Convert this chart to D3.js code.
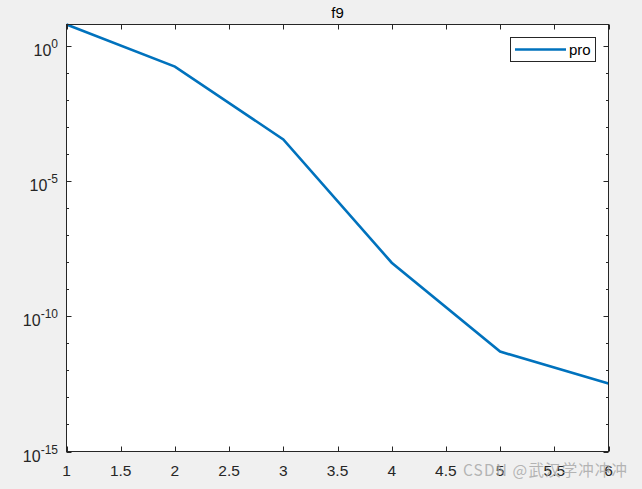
<!DOCTYPE html>
<html><head><meta charset="utf-8">
<script src="https://cdn.jsdelivr.net/npm/d3@7"></script>
<style>
html,body{margin:0;padding:0;background:#f0f0f0;}
svg{display:block;font-family:"Liberation Sans",Arial,Helvetica,sans-serif;}
</style></head>
<body><svg id="c" width="642" height="489"></svg>
<script>
const xValues = [1, 2, 3, 4, 5, 6];
const proValues = [6.5, 0.18, 3.6e-4, 9.8e-9, 5.0e-12, 3.3e-13];
const xTicks = [1, 1.5, 2, 2.5, 3, 3.5, 4, 4.5, 5, 5.5, 6];
const yMajorExp = [0, -5, -10, -15];
const seriesName = "pro";
const title = "f9";

const svg = d3.select("#c");
const L = 66.5, R = 608.5, T = 24.5, B = 451.5;
const x = d3.scaleLinear().domain([1, 6]).range([L, R]);
const y = d3.scaleLog().domain([1e-15, 6.5]).range([B, T]);
const axisCol = "#262626";

svg.append("rect").attr("x", L).attr("y", T).attr("width", R - L).attr("height", B - T).attr("fill", "#fff");

// line
const line = d3.line().x((d, i) => x(xValues[i])).y(d => y(d));
svg.append("path").datum(proValues).attr("d", line).attr("fill", "none")
  .attr("stroke", "#0072BD").attr("stroke-width", 2.6).attr("stroke-linejoin", "miter");

// box
svg.append("rect").attr("x", L).attr("y", T).attr("width", R - L).attr("height", B - T)
  .attr("fill", "none").attr("stroke", axisCol).attr("stroke-width", 1);

// x ticks
const g = svg.append("g");
xTicks.forEach(t => {
  const px = Math.round(x(t)) + 0.5;
  g.append("line").attr("x1", px).attr("x2", px).attr("y1", B).attr("y2", B - 5).attr("stroke", axisCol);
  g.append("line").attr("x1", px).attr("x2", px).attr("y1", T).attr("y2", T + 5).attr("stroke", axisCol);
  g.append("text").attr("x", x(t)).attr("y", 476).attr("text-anchor", "middle")
    .attr("font-size", 15.5).attr("fill", axisCol).text(d3.format("")(t));
});

// y ticks (every decade minor, major labelled)
for (let e = 0; e >= -15; e--) {
  const py = Math.round(y(Math.pow(10, e))) + 0.5;
  const major = yMajorExp.includes(e);
  const len = major ? 5 : 2.5;
  g.append("line").attr("x1", L).attr("x2", L + len).attr("y1", py).attr("y2", py).attr("stroke", axisCol);
  g.append("line").attr("x1", R).attr("x2", R - len).attr("y1", py).attr("y2", py).attr("stroke", axisCol);
}
yMajorExp.forEach(e => {
  const py = y(Math.pow(10, e));
  const t = g.append("text").attr("x", 58).attr("y", py + 10).attr("text-anchor", "end")
    .attr("font-size", 16).attr("fill", axisCol);
  t.append("tspan").text("10");
  t.append("tspan").attr("dy", -8).attr("font-size", 12).text(String(e));
});

// title
svg.append("text").attr("x", (L + R) / 2).attr("y", 18).attr("text-anchor", "middle")
  .attr("font-size", 15).attr("fill", "#000").text(title);

// legend
const lg = svg.append("g");
lg.append("rect").attr("x", 510.5).attr("y", 37.5).attr("width", 85).attr("height", 24)
  .attr("fill", "#fff").attr("stroke", axisCol).attr("stroke-width", 1);
lg.append("line").attr("x1", 515).attr("x2", 566).attr("y1", 49.5).attr("y2", 49.5)
  .attr("stroke", "#0072BD").attr("stroke-width", 2.6);
lg.append("text").attr("x", 569).attr("y", 55).attr("font-size", 15).attr("fill", "#000").text(seriesName);

// watermark
svg.append("text").attr("x", 463).attr("y", 476).attr("textLength", 164)
  .attr("font-family", "'Noto Sans CJK SC',sans-serif").attr("font-size", 15.5)
  .attr("fill", "#a8a8a8").attr("fill-opacity", 0.85).text("CSDN @武汉学冲冲冲");
</script></body></html>
